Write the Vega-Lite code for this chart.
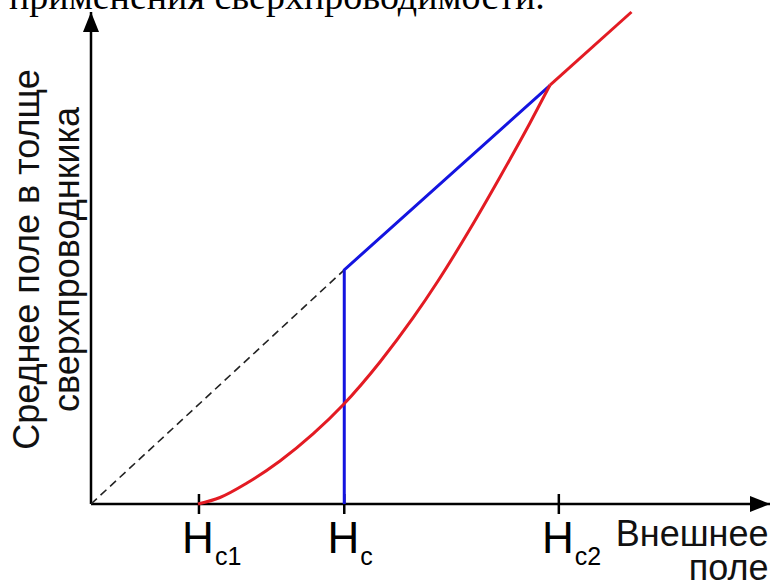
{
  "$schema": "https://vega.github.io/schema/vega-lite/v6.json",
  "width": 679,
  "height": 492,
  "autosize": {"type": "none"},
  "padding": {"left": 91, "top": 12, "right": 1, "bottom": 77},
  "background": "white",
  "title": {
    "text": "применения сверхпроводимости.",
    "font": "Liberation Serif",
    "fontSize": 38,
    "fontWeight": "normal",
    "color": "#000000",
    "anchor": "start",
    "frame": "bounds",
    "baseline": "alphabetic",
    "offset": -41
  },
  "config": {
    "view": {"stroke": null},
    "axis": {"domain": false, "ticks": false, "labels": false, "grid": false}
  },
  "datasets": {
    "dashed": [
      {"x": 0, "y": 0},
      {"x": 3.73, "y": 3.45}
    ],
    "blue": [
      {"x": 3.73, "y": 0},
      {"x": 3.73, "y": 3.45},
      {"x": 6.76, "y": 6.17}
    ],
    "red": [
      {"seg": "curve", "x": 1.576, "y": 0},
      {"seg": "curve", "x": 1.9, "y": 0.096},
      {"seg": "curve", "x": 2.297, "y": 0.309},
      {"seg": "curve", "x": 2.783, "y": 0.634},
      {"seg": "curve", "x": 3.27, "y": 1.032},
      {"seg": "curve", "x": 3.711, "y": 1.459},
      {"seg": "curve", "x": 4.256, "y": 2.093},
      {"seg": "curve", "x": 4.742, "y": 2.741},
      {"seg": "curve", "x": 5.11, "y": 3.286},
      {"seg": "curve", "x": 5.582, "y": 4.052},
      {"seg": "curve", "x": 6.024, "y": 4.819},
      {"seg": "curve", "x": 6.465, "y": 5.614},
      {"seg": "curve", "x": 6.76, "y": 6.174},
      {"seg": "line", "x": 6.76, "y": 6.174},
      {"seg": "line", "x": 7.96, "y": 7.25}
    ],
    "ticks": [
      {"x": 1.59, "base": "H", "sub": "c1"},
      {"x": 3.73, "base": "H", "sub": "c"},
      {"x": 6.89, "base": "H", "sub": "c2"}
    ]
  },
  "encoding": {
    "x": {
      "type": "quantitative",
      "scale": {"domain": [0, 10], "nice": false, "zero": false},
      "axis": {
        "title": ["Внешнее", "поле"],
        "titleFont": "Liberation Sans",
        "titleFontSize": 36,
        "titleFontWeight": "normal",
        "titleColor": "#111111",
        "titleAlign": "right",
        "titleBaseline": "alphabetic",
        "titleX": 677,
        "titleY": 41,
        "titleLineHeight": 34
      }
    },
    "y": {
      "type": "quantitative",
      "scale": {"domain": [0, 7.25], "nice": false, "zero": false},
      "axis": {
        "title": ["Среднее поле в толще", "сверхпроводнкика"],
        "titleFont": "Liberation Sans",
        "titleFontSize": 36,
        "titleFontWeight": "normal",
        "titleColor": "#111111",
        "titleAngle": 270,
        "titleAlign": "center",
        "titleBaseline": "alphabetic",
        "titleX": -53,
        "titleY": 247,
        "titleLineHeight": 40
      }
    }
  },
  "layer": [
    {
      "data": {"values": [{}]},
      "mark": {"type": "rule", "color": "#000000", "strokeWidth": 2.5},
      "encoding": {"y": {"datum": 0}}
    },
    {
      "data": {"values": [{}]},
      "mark": {"type": "rule", "color": "#000000", "strokeWidth": 2.5},
      "encoding": {"x": {"datum": 0}}
    },
    {
      "data": {"values": [{}]},
      "mark": {"type": "point", "shape": "M-0.8,2L0,0L0.8,2Z", "size": 400, "filled": true, "opacity": 1, "color": "#000000", "strokeWidth": 0},
      "encoding": {"x": {"datum": 0}, "y": {"datum": 7.25}}
    },
    {
      "data": {"values": [{}]},
      "mark": {"type": "point", "shape": "M-2,-0.8L0,0L-2,0.8Z", "size": 400, "filled": true, "opacity": 1, "color": "#000000", "strokeWidth": 0},
      "encoding": {"x": {"datum": 10}, "y": {"datum": 0}}
    },
    {
      "data": {"name": "ticks"},
      "mark": {"type": "tick", "orient": "vertical", "size": 20, "thickness": 2.5, "color": "#000000", "opacity": 1},
      "encoding": {"x": {"field": "x", "type": "quantitative"}, "y": {"datum": 0}}
    },
    {
      "data": {"name": "dashed"},
      "mark": {"type": "line", "color": "#222222", "strokeWidth": 1.6, "strokeDash": [8, 5]},
      "encoding": {"x": {"field": "x", "type": "quantitative"}, "y": {"field": "y", "type": "quantitative"}}
    },
    {
      "data": {"name": "blue"},
      "mark": {"type": "line", "color": "#1414e0", "strokeWidth": 3, "strokeJoin": "miter"},
      "encoding": {"x": {"field": "x", "type": "quantitative"}, "y": {"field": "y", "type": "quantitative"}, "order": {"value": null}}
    },
    {
      "data": {"name": "red"},
      "mark": {"type": "line", "color": "#e31b23", "strokeWidth": 3, "interpolate": "monotone"},
      "encoding": {"x": {"field": "x", "type": "quantitative"}, "y": {"field": "y", "type": "quantitative"}, "detail": {"field": "seg"}}
    },
    {
      "data": {"name": "ticks"},
      "mark": {"type": "text", "font": "Liberation Sans", "fontSize": 44, "align": "center", "baseline": "alphabetic", "dx": -1, "dy": 49, "color": "#000000"},
      "encoding": {"x": {"field": "x", "type": "quantitative"}, "y": {"datum": 0}, "text": {"field": "base"}}
    },
    {
      "data": {"name": "ticks"},
      "mark": {"type": "text", "font": "Liberation Sans", "fontSize": 25, "align": "left", "baseline": "alphabetic", "dx": 16, "dy": 61, "color": "#000000"},
      "encoding": {"x": {"field": "x", "type": "quantitative"}, "y": {"datum": 0}, "text": {"field": "sub"}}
    }
  ]
}
